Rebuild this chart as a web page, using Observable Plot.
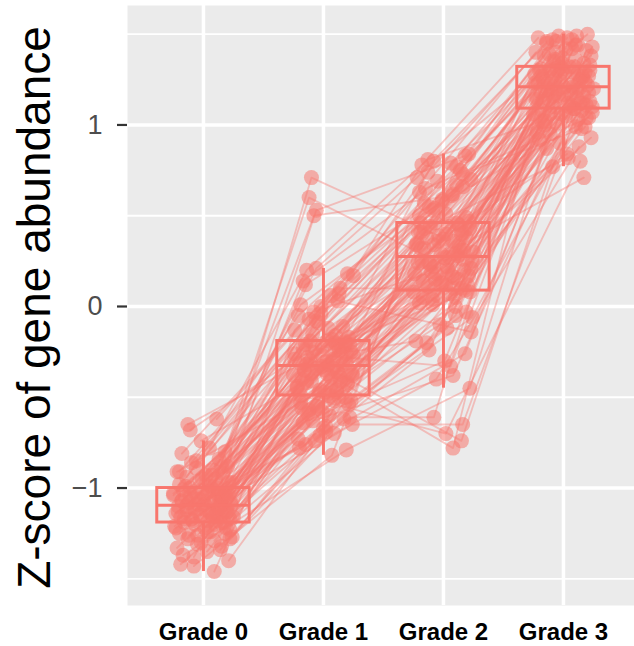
<!DOCTYPE html>
<html>
<head>
<meta charset="utf-8">
<script src="https://cdn.jsdelivr.net/npm/d3@7"></script>
<script src="https://cdn.jsdelivr.net/npm/@observablehq/plot@0.6"></script>
<style>
  html, body { margin: 0; padding: 0; background: #ffffff; }
  #chart svg { display: block; font-family: "Liberation Sans", Arial, Helvetica, sans-serif; }
</style>
</head>
<body>
<div id="chart"></div>
<script>
// Categories
const grades = ["Grade 0", "Grade 1", "Grade 2", "Grade 3"];
const yTicks = [-1, 0, 1];
const yTickLabels = ["\u22121", "0", "1"];
const yLabel = "Z-score of gene abundance";

// Z-score of each gene at each grade (one entry per gene, same order in every array)
const grade0 = [
  -1.04,-1.43,-1.40,-1.37,-1.35,-1.33,-1.32,-1.30,-1.29,-1.28,
  -1.27,-1.26,-1.25,-1.25,-1.24,-0.68,-1.22,-1.22,-1.21,-1.20,
  -1.20,-1.19,-1.19,-1.18,-1.17,-1.17,-1.16,-1.16,-1.15,-1.15,
  -0.62,-1.14,-1.13,-1.13,-1.12,-1.12,-1.11,-1.11,-1.10,-1.10,
  -1.09,-1.09,-1.08,-1.08,-1.07,-1.07,-1.06,-1.06,-1.05,-1.05,
  -1.46,-1.04,-1.03,-1.03,-1.02,-1.02,-1.01,-1.01,-1.00,-1.00,
  -0.99,-0.98,-0.97,-0.96,-0.95,-0.94,-0.93,-0.92,-0.91,-0.90,
  -0.89,-0.88,-0.86,-0.84,-0.81,-0.78,-0.74,-1.23,-0.65,-1.14,
  -1.42,-1.01,-1.34,-1.31,-1.28,-1.26,-1.24,-1.22,-1.19,-1.18,
  -1.18,-1.17,-1.16,-1.15,-1.14,-1.13,-1.13,-1.12,-1.11,-1.10,
  -1.09,-1.08,-1.07,-1.07,-1.06,-1.05,-1.04,-1.03,-1.03,-1.02,
  -1.38,-1.00,-0.99,-0.97,-0.95,-0.93,-0.91,-0.88,-0.85,-0.80
];
const grade1 = [
  -0.76,-0.82,-0.71,-0.79,-0.73,-0.46,-0.69,-0.63,-0.25,-0.64,
  -0.60,-0.57,-0.32,-0.58,-0.54,-0.29,-0.52,-0.55,-0.50,-0.53,
  -0.50,-0.48,-0.20,-0.45,-0.47,-0.65,-0.42,-0.44,-0.41,-0.43,
  -0.03,-0.39,-0.40,-0.37,-0.38,0.60,-0.33,-0.36,-0.35,-0.34,
  -0.61,-0.30,-0.32,-0.31,-0.28,-0.56,-0.26,-0.28,-0.67,-0.27,
  -0.23,-0.24,0.71,-0.24,-0.22,-0.19,-0.21,-0.18,-0.49,-0.19,
  -0.11,-0.15,-0.17,-0.09,0.50,-0.05,0.03,-0.07,-0.37,0.00,
  0.06,0.14,0.10,0.21,0.18,0.20,-0.35,-0.13,-0.21,0.53,
  -0.70,-0.78,-0.62,-0.74,-0.66,-0.52,-0.59,-0.47,-0.56,-0.49,
  -0.44,-0.41,-0.46,-0.42,-0.37,-0.39,-0.35,-0.38,-0.34,-0.36,
  -0.32,-0.30,-0.31,-0.26,-0.29,-0.27,-0.22,-0.25,-0.21,-0.23,
  -0.12,-0.19,-0.20,-0.08,-0.16,0.01,0.17,-0.04,0.07,0.12
];
const grade2 = [
  0.20,0.46,0.33,-0.45,0.15,0.31,-0.24,-0.38,-0.19,-0.30,
  -0.03,-0.10,0.65,0.00,-0.06,0.04,0.07,0.02,0.42,0.06,
  0.77,0.08,0.12,0.09,0.11,-0.65,0.13,0.17,0.14,0.16,
  0.19,0.21,0.18,-0.78,0.24,0.22,0.26,0.23,0.27,0.25,
  -0.61,0.29,0.28,0.32,0.30,0.34,0.37,-0.74,0.35,0.36,
  0.38,0.40,0.39,0.43,0.41,0.05,0.46,0.44,-0.70,0.45,
  0.51,0.55,0.49,0.53,0.61,0.57,-0.14,0.59,0.67,0.63,
  0.73,0.69,0.10,0.71,0.75,0.81,0.79,0.84,0.80,0.83,
  -0.40,-0.26,0.41,-0.05,-0.20,-0.12,0.08,0.01,0.10,0.05,
  0.17,0.13,0.12,0.18,0.15,0.22,0.27,0.20,0.24,0.25,
  0.32,0.29,0.36,0.31,0.34,-0.33,0.38,0.44,0.40,0.43,
  0.47,0.54,0.46,0.50,0.66,0.58,0.74,0.62,0.78,0.70
];
const grade3 = [
  0.77,1.26,0.71,1.32,0.93,0.87,1.44,0.90,0.99,0.96,
  1.47,1.00,1.04,1.01,1.03,1.06,1.05,1.08,1.06,1.07,
  1.34,1.09,1.08,1.11,1.10,1.12,1.14,1.12,1.13,1.14,
  1.15,1.16,1.16,1.18,1.17,1.18,1.20,1.19,1.21,1.20,
  1.23,1.21,1.24,1.22,1.23,0.84,1.25,1.27,1.25,1.27,
  1.29,1.28,1.28,1.30,1.29,1.31,1.32,1.30,0.80,1.32,
  1.33,1.35,1.10,1.38,1.36,1.37,1.41,1.39,1.42,1.40,
  0.98,1.46,1.43,1.45,1.48,1.02,1.49,1.47,1.50,1.49,
  0.88,0.95,0.82,0.92,1.04,1.40,1.09,1.02,1.10,1.06,
  1.13,1.11,1.16,1.12,1.15,1.19,1.17,1.20,1.18,1.20,
  1.25,1.23,1.22,1.26,1.24,1.28,1.30,1.27,1.29,1.30,
  1.31,1.34,1.31,0.99,1.36,1.38,1.46,1.42,1.48,1.44
];

// Horizontal jitter of each point around its grade (in category units)
const jitter0 = [
  0.12,-0.08,0.21,-0.17,0.03,-0.22,0.15,-0.02,0.09,-0.13,
  0.24,-0.05,0.18,-0.20,0.06,-0.11,0.01,0.19,-0.24,0.10,
  -0.07,0.14,-0.16,0.04,0.22,-0.10,0.08,-0.19,0.16,-0.03,
  0.11,-0.23,0.05,0.20,-0.14,0.02,-0.09,0.17,-0.21,0.13,
  -0.04,0.23,-0.12,0.07,-0.18,0.00,0.15,-0.06,0.19,-0.15,
  0.09,-0.25,0.12,-0.01,0.21,-0.08,0.04,-0.17,0.18,-0.11,
  0.06,-0.20,0.24,-0.03,0.10,-0.14,0.02,0.16,-0.22,0.08,
  -0.06,0.20,-0.10,0.13,-0.18,0.05,-0.02,0.22,-0.13,0.11,
  -0.19,0.08,0.14,-0.05,0.22,-0.12,0.03,-0.23,0.17,-0.09,
  0.11,-0.16,0.25,-0.02,0.06,-0.21,0.19,-0.07,0.13,-0.14,
  0.01,0.23,-0.18,0.09,-0.04,0.16,-0.11,0.20,-0.25,0.04,
  -0.08,0.12,-0.15,0.21,-0.01,0.07,-0.20,0.15,-0.06,0.18
];
const jitter1 = [
  -0.15,0.07,-0.03,0.19,-0.21,0.11,0.02,-0.09,0.23,-0.17,
  0.05,-0.12,0.16,-0.01,0.21,-0.24,0.09,-0.06,0.13,-0.19,
  0.18,-0.04,0.10,-0.22,0.01,0.24,-0.14,0.06,-0.10,0.20,
  -0.08,0.14,-0.18,0.03,-0.25,-0.12,-0.02,0.12,-0.16,0.08,
  0.22,-0.11,0.04,-0.20,0.15,-0.05,0.19,-0.13,0.00,0.25,
  -0.07,0.10,-0.10,0.13,-0.01,0.18,-0.15,0.07,-0.19,0.03,
  0.16,-0.09,0.21,-0.04,-0.08,-0.21,0.12,-0.12,0.24,-0.02,
  0.06,-0.17,0.14,-0.06,0.20,-0.14,0.01,-0.24,0.11,-0.06,
  0.09,-0.20,0.17,-0.07,0.02,0.23,-0.13,0.11,-0.18,0.05,
  -0.22,0.14,-0.03,0.20,-0.10,0.06,-0.16,0.24,-0.05,0.12,
  -0.14,0.03,0.19,-0.24,0.08,-0.01,0.15,-0.09,0.22,-0.17,
  0.04,-0.11,0.18,-0.06,0.10,-0.19,0.25,-0.02,0.13,-0.15
];
const jitter2 = [
  0.04,-0.19,0.13,0.22,-0.07,0.17,-0.12,0.08,-0.23,0.01,
  0.19,-0.03,-0.15,0.10,0.24,-0.09,0.06,-0.20,0.15,-0.05,
  0.11,-0.25,0.02,0.18,-0.13,0.16,-0.01,0.21,-0.17,0.09,
  -0.10,0.23,-0.06,0.08,-0.21,0.03,0.16,-0.11,0.05,-0.18,
  -0.08,-0.02,0.12,-0.16,0.25,-0.08,0.00,0.15,-0.22,0.08,
  -0.14,0.15,-0.04,0.22,-0.19,0.10,-0.07,0.04,0.02,0.13,
  0.02,-0.12,0.19,-0.09,0.07,-0.16,0.23,-0.01,0.11,-0.20,
  0.16,-0.05,0.09,-0.22,0.14,-0.13,0.06,0.21,-0.08,0.18,
  -0.06,0.18,-0.21,0.10,-0.14,0.03,0.22,-0.09,0.15,-0.17,
  0.07,-0.02,0.20,-0.24,0.12,-0.08,0.01,0.17,-0.12,0.24,
  -0.19,0.09,-0.04,0.14,-0.23,0.06,0.19,-0.11,0.02,-0.16,
  0.21,-0.07,0.11,-0.20,0.16,-0.01,-0.13,0.08,-0.18,0.23
];
const jitter3 = [
  -0.09,0.16,0.17,0.05,0.23,-0.14,0.10,-0.03,0.18,-0.22,
  0.07,-0.16,0.21,-0.06,0.12,-0.25,0.02,0.15,-0.11,0.24,
  -0.01,0.09,-0.18,0.19,-0.08,0.14,-0.23,0.04,0.22,-0.12,
  0.11,-0.04,0.17,-0.19,0.06,-0.10,0.25,-0.15,0.00,0.13,
  -0.21,0.08,-0.02,0.20,-0.13,0.03,-0.17,0.16,-0.07,0.21,
  0.01,-0.24,0.12,-0.05,0.18,-0.11,0.09,-0.20,0.14,-0.03,
  0.22,-0.08,0.05,-0.16,0.10,-0.01,0.19,-0.12,0.07,-0.23,
  0.15,-0.06,0.24,-0.14,0.03,-0.18,0.11,-0.09,0.20,-0.04,
  0.13,-0.11,0.04,-0.20,0.19,-0.06,0.09,-0.15,0.24,-0.02,
  -0.17,0.07,-0.09,0.16,-0.22,0.11,0.00,-0.13,0.21,-0.05,
  0.14,-0.24,0.06,-0.10,0.18,-0.03,0.22,-0.18,0.08,-0.12,
  -0.01,0.17,-0.19,0.10,-0.07,0.23,-0.14,0.02,-0.21,0.12
];

// ---- build tables for the library ----
const values = [grade0, grade1, grade2, grade3];
const jitters = [jitter0, jitter1, jitter2, jitter3];
const rows = [];
for (let i = 0; i < grade0.length; ++i) {
  for (let g = 0; g < grades.length; ++g) {
    rows.push({gene: i, grade: g, x: g + jitters[g][i], y: values[g][i]});
  }
}
// Box-plot statistics (Tukey, 1.5 IQR whiskers) computed from the data
const stats = grades.map((name, g) => {
  const s = values[g].slice().sort(d3.ascending);
  const q1 = d3.quantile(s, 0.25), med = d3.quantile(s, 0.5), q3 = d3.quantile(s, 0.75);
  const iqr = q3 - q1;
  const lo = d3.min(s.filter(v => v >= q1 - 1.5 * iqr));
  const hi = d3.max(s.filter(v => v <= q3 + 1.5 * iqr));
  return {g, q1, med, q3, lo, hi};
});

const RED = "#F8766D";
const HALF = 0.385;

const chart = Plot.plot({
  width: 634,
  height: 646,
  marginLeft: 127,
  marginRight: 0,
  marginTop: 5,
  marginBottom: 41,
  x: {type: "linear", domain: [-0.633, 3.592]},
  y: {type: "linear", domain: [-1.647, 1.658]},
  marks: [
    Plot.frame({fill: "#EBEBEB", stroke: "none"}),
    Plot.gridY([-1.5, -0.5, 0.5, 1.5], {stroke: "#ffffff", strokeOpacity: 1, strokeWidth: 1.8}),
    Plot.gridY(yTicks, {stroke: "#ffffff", strokeOpacity: 1, strokeWidth: 3.5}),
    Plot.gridX([0, 1, 2, 3], {stroke: "#ffffff", strokeOpacity: 1, strokeWidth: 3.5}),
    Plot.line(rows, {x: "x", y: "y", z: "gene", stroke: RED, strokeOpacity: 0.4, strokeWidth: 1.8, curve: "linear"}),
    Plot.dot(rows, {x: "x", y: "y", r: 7.5, fill: RED, fillOpacity: 0.55, stroke: "none"}),
    Plot.ruleX(stats, {x: "g", y1: "q3", y2: "hi", stroke: RED, strokeWidth: 3}),
    Plot.ruleX(stats, {x: "g", y1: "lo", y2: "q1", stroke: RED, strokeWidth: 3}),
    Plot.rect(stats, {x1: d => d.g - HALF, x2: d => d.g + HALF, y1: "q1", y2: "q3", fill: "none", stroke: RED, strokeWidth: 3}),
    Plot.ruleY(stats, {x1: d => d.g - HALF, x2: d => d.g + HALF, y: "med", stroke: RED, strokeWidth: 3}),
    Plot.axisY(yTicks, {
      tickSize: 10, tickPadding: 15, fontSize: 27, fill: "#4D4D4D", stroke: "#333333", strokeWidth: 2.2,
      tickFormat: d => yTickLabels[yTicks.indexOf(d)], label: null
    }),
    Plot.axisX([0, 1, 2, 3], {
      tickSize: 0, tickPadding: 17, fontSize: 24, fontWeight: "bold", fill: "#000000",
      tickFormat: i => grades[i], label: null
    }),
    Plot.text([yLabel], {
      frameAnchor: "left", textAnchor: "middle", lineAnchor: "middle", rotate: -90,
      dx: -92, dy: 2, fontSize: 46, fill: "#000000", text: d => d
    })
  ]
});
document.getElementById("chart").appendChild(chart);
</script>
</body>
</html>
